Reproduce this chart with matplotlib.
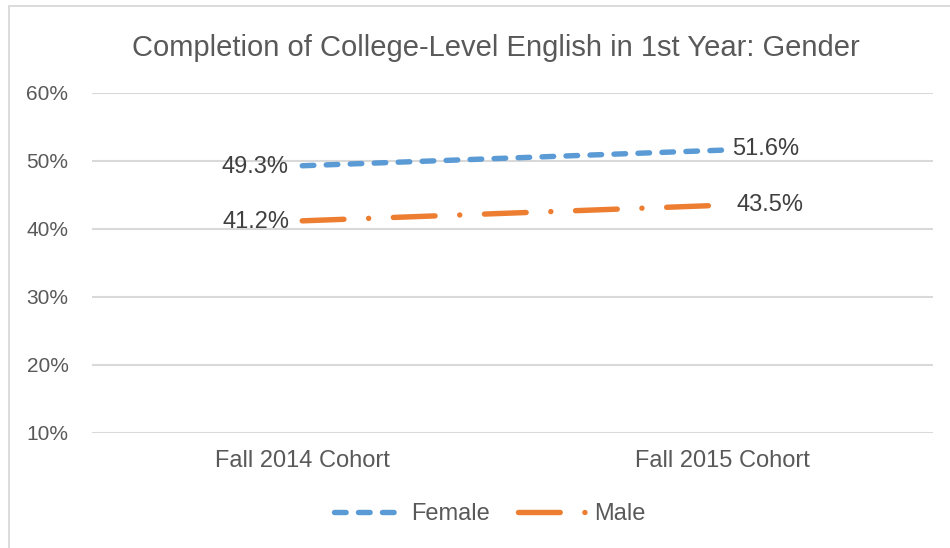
import matplotlib
matplotlib.use("Agg")
import matplotlib.pyplot as plt
from matplotlib.patches import Rectangle

cohorts = ["Fall 2014 Cohort", "Fall 2015 Cohort"]
female = [0.493, 0.516]
male = [0.412, 0.435]
y_ticks = [0.1, 0.2, 0.3, 0.4, 0.5, 0.6]

plt.rcParams["font.family"] = ["Liberation Sans", "DejaVu Sans"]
TEXT = "#595959"
GRID = "#D9D9D9"
BLUE = "#5B9BD5"
ORANGE = "#ED7D31"

fig = plt.figure(figsize=(9.5, 5.48), dpi=100)
ax = fig.add_axes([92 / 950, 1 - 433 / 548, (933 - 92) / 950, (433 - 93) / 548])

# chart border (only top and left visible in the crop)
fig.patches.append(Rectangle((9 / 950, -0.2), 2, 1.2 - 6 / 548,
                             transform=fig.transFigure, fill=False,
                             edgecolor=GRID, linewidth=1.3))

x = range(len(cohorts))
ax.plot(x, female, color=BLUE, linewidth=3.9, solid_capstyle="round",
        dash_capstyle="round", linestyle=(0, (2.14, 2.29)), label="Female")
ax.plot(x, male, color=ORANGE, linewidth=3.9, solid_capstyle="round",
        dash_capstyle="round", linestyle=(0, (7.7, 4.56, 0.01, 4.56)),
        label="Male")

ax.set_xlim(-0.5, 1.5)
ax.set_ylim(0.1, 0.6)
ax.set_yticks(y_ticks)
ax.set_yticklabels(["{:.0f}%".format(v * 100) for v in y_ticks])
ax.set_xticks(list(x))
ax.set_xticklabels(cohorts)
ax.tick_params(axis="y", length=0, pad=17, labelsize=15, labelcolor=TEXT)
ax.tick_params(axis="x", length=0, pad=12, labelsize=17, labelcolor=TEXT)
for s in ax.spines.values():
    s.set_visible(False)
ax.grid(axis="y", color=GRID, linewidth=1.5)
ax.set_axisbelow(True)

# data labels
for i, v in enumerate(female):
    off = (-10, -1) if i == 0 else (7, 1)
    ax.annotate("{:.1f}%".format(v * 100), (i, v), xytext=off,
                textcoords="offset points", ha="right" if i == 0 else "left",
                va="center", fontsize=17, color="#404040")
for i, v in enumerate(male):
    off = (-9, -1) if i == 0 else (10, 0)
    ax.annotate("{:.1f}%".format(v * 100), (i, v), xytext=off,
                textcoords="offset points", ha="right" if i == 0 else "left",
                va="center", fontsize=17, color="#404040")

fig.text(496 / 950, 1 - 48 / 548,
         "Completion of College-Level English in 1st Year: Gender",
         ha="center", va="center", fontsize=21, color=TEXT)

fig.legend(loc="center", bbox_to_anchor=(490 / 950, 1 - 514 / 548),
           ncol=2, frameon=False, fontsize=17, labelcolor=TEXT,
           handlelength=2.85, handletextpad=0.4, columnspacing=1.2)

fig.savefig("out.png", dpi=100)
